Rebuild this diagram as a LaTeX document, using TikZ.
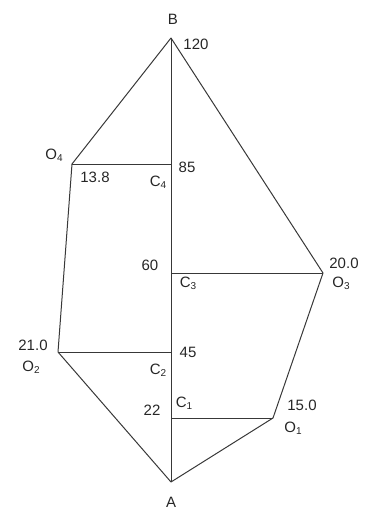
\documentclass[tikz,border=0pt]{standalone}
\usepackage{fontspec}
\setmainfont{Liberation Sans}
\newcommand{\sbs}[1]{\raisebox{-0.3ex}{\fontsize{10}{10}\selectfont #1}}
\begin{document}
\begin{tikzpicture}[x=1pt,y=-1pt,
  edge/.style={draw=black!78,line width=1pt,line join=round},
  lbl/.style={inner sep=0pt,font=\fontsize{15}{15}\selectfont,text=black!85}]
\useasboundingbox (0,0) rectangle (371,511);
\coordinate (B) at (171,38);
\coordinate (A) at (171,482);
\coordinate (O4) at (72,164);
\coordinate (C4) at (171,164);
\coordinate (O3) at (323,273);
\coordinate (C3) at (171,273);
\coordinate (O2) at (58,352);
\coordinate (C2) at (171,352);
\coordinate (O1) at (273,418);
\coordinate (C1) at (171,418);
\draw[edge] (B) -- (A);
\draw[edge] (B) -- (O4) -- (O2) -- (A) -- (O1) -- (O3) -- cycle;
\draw[edge] (O4) -- (C4);
\draw[edge] (O3) -- (C3);
\draw[edge] (O2) -- (C2);
\draw[edge] (O1) -- (C1);
\node[lbl] (lB) at (173,19) {B};
\node[lbl] (lA) at (171,502) {A};
\node[lbl] (l120) at (196,44) {120};
\node[lbl] (lO4) at (54,155) {O\sbs{4}};
\node[lbl] (l138) at (95,177) {13.8};
\node[lbl] (lC4) at (158,182) {C\sbs{4}};
\node[lbl] (l85) at (187,167) {85};
\node[lbl] (l60) at (150,265) {60};
\node[lbl] (lC3) at (188,283) {C\sbs{3}};
\node[lbl] (l200) at (344,263) {20.0};
\node[lbl] (lO3) at (341,283) {O\sbs{3}};
\node[lbl] (l210) at (33,345) {21.0};
\node[lbl] (lO2) at (31,367) {O\sbs{2}};
\node[lbl] (l45) at (188,352) {45};
\node[lbl] (lC2) at (158,370) {C\sbs{2}};
\node[lbl] (l22) at (152,410) {22};
\node[lbl] (lC1) at (184,403) {C\sbs{1}};
\node[lbl] (l150) at (302,405) {15.0};
\node[lbl] (lO1) at (293,428) {O\sbs{1}};
\end{tikzpicture}
\end{document}
